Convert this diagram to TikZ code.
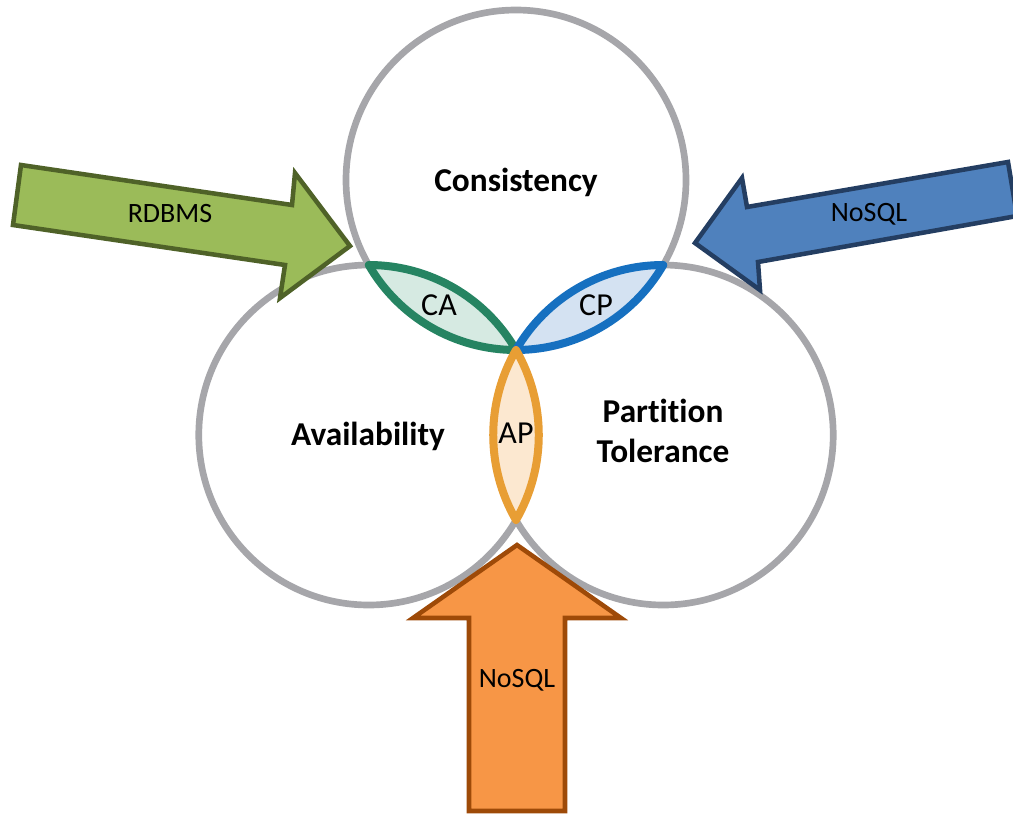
\documentclass[tikz,border=0pt]{standalone}
\usepackage{fontspec}
\setmainfont{Carlito}[Ligatures=NoCommon]
\usetikzlibrary{calc}
\definecolor{ringgray}{RGB}{166,166,170}
\definecolor{castroke}{RGB}{38,132,98}
\definecolor{cafill}{RGB}{214,234,226}
\definecolor{cpstroke}{RGB}{22,112,192}
\definecolor{cpfill}{RGB}{212,226,242}
\definecolor{apstroke}{RGB}{232,158,52}
\definecolor{apfill}{RGB}{252,232,208}
\definecolor{greenfill}{RGB}{155,187,89}
\definecolor{greenedge}{RGB}{79,98,40}
\definecolor{bluefill}{RGB}{79,129,189}
\definecolor{blueedge}{RGB}{36,62,98}
\definecolor{orangefill}{RGB}{247,150,70}
\definecolor{orangeedge}{RGB}{158,74,8}
\begin{document}
\begin{tikzpicture}[x=0.75pt,y=0.75pt,
  ring/.style={draw=ringgray, line width=5pt, fill=white},
  lens/.style={line width=6pt, line join=round},
  blockarrow/.style={line width=3.4pt, line join=miter},
  setname/.style={font=\fontsize{25}{30}\selectfont\bfseries, align=center, inner sep=0pt},
  pairname/.style={font=\fontsize{24}{28}\selectfont, inner sep=0pt},
  arrowname/.style={font=\fontsize{21}{25}\selectfont, inner sep=0pt}]
\useasboundingbox (0,0) rectangle (1013,-814);
\def\r{170}
% the three sets: circles through one common point
\coordinate (P) at (516,-350);
\coordinate (T) at ($(P)+(90:\r)$);
\coordinate (L) at ($(P)+(210:\r)$);
\coordinate (R) at ($(P)+(-30:\r)$);
\coordinate (caTip) at ($(L)+(90:\r)$);
\coordinate (cpTip) at ($(R)+(90:\r)$);
\coordinate (apTip) at ($(L)+(-30:\r)$);

\draw[ring] (T) circle[radius=\r];
\draw[ring] (L) circle[radius=\r];
\draw[ring] (R) circle[radius=\r];

% pairwise overlaps
\draw[lens, draw=castroke, fill=cafill] (caTip)
  arc[start angle=90, end angle=30, radius=\r]
  arc[start angle=-90, end angle=-150, radius=\r] -- cycle;
\draw[lens, draw=cpstroke, fill=cpfill] (P)
  arc[start angle=150, end angle=90, radius=\r]
  arc[start angle=-30, end angle=-90, radius=\r] -- cycle;
\draw[lens, draw=apstroke, fill=apfill] (P)
  arc[start angle=30, end angle=-30, radius=\r]
  arc[start angle=210, end angle=150, radius=\r] -- cycle;

% block arrows
\coordinate (g1) at (21,-165);
\coordinate (g2) at (292,-205);
\coordinate (g3) at (295,-173);
\coordinate (g4) at (350,-246);
\coordinate (g5) at (280,-298);
\coordinate (g6) at (285,-265);
\coordinate (g7) at (13,-225);
\draw[blockarrow, draw=greenedge, fill=greenfill]
  (g1) -- (g2) -- (g3) -- (g4) -- (g5) -- (g6) -- (g7) -- cycle;

\coordinate (b1) at (1008,-162);
\coordinate (b2) at (747,-207);
\coordinate (b3) at (742,-178);
\coordinate (b4) at (695,-243);
\coordinate (b5) at (760,-290);
\coordinate (b6) at (758,-262);
\coordinate (b7) at (1017,-216);
\draw[blockarrow, draw=blueedge, fill=bluefill]
  (b1) -- (b2) -- (b3) -- (b4) -- (b5) -- (b6) -- (b7) -- cycle;

\coordinate (o1) at (517,-545);
\coordinate (o2) at (621,-618);
\coordinate (o3) at (565,-618);
\coordinate (o4) at (565,-811);
\coordinate (o5) at (469,-811);
\coordinate (o6) at (469,-618);
\coordinate (o7) at (413,-618);
\draw[blockarrow, draw=orangeedge, fill=orangefill]
  (o1) -- (o2) -- (o3) -- (o4) -- (o5) -- (o6) -- (o7) -- cycle;

% labels
\node[setname] (cons) at (516,-182) {Consistency};
\node[setname] (avail) at (368,-436) {Availability};
\node[setname] (part) at (663,-431) {Partition\\Tolerance};
\node[pairname] (ca) at (439,-305) {CA};
\node[pairname] (cp) at (596,-305) {CP};
\node[pairname] (ap) at (516,-433) {AP};
\node[arrowname] (rdbms) at (170,-214) {RDBMS};
\node[arrowname] (nosqlcp) at (869,-214) {NoSQL};
\node[arrowname] (nosqlap) at (517,-680) {NoSQL};
\end{tikzpicture}
\end{document}
